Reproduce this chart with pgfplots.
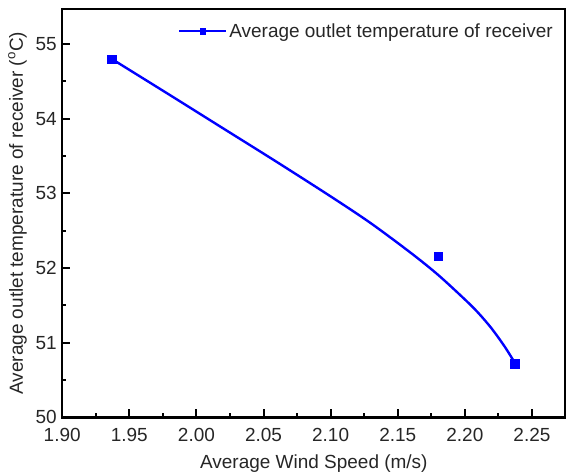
\documentclass[border=0pt]{standalone}
\usepackage{pgfplots}
\pgfplotsset{compat=1.18}
\usepackage{fontspec}
\setmainfont{Liberation Sans}
\newcommand\fs{\fontsize{19bp}{22bp}\selectfont}

% fitted curve
\pgfplotstableread{
x      y
1.937  54.80
1.980  54.32
2.020  53.87
2.060  53.42
2.100  52.96
2.130  52.60
2.160  52.20
2.180  51.91
2.200  51.58
2.210  51.40
2.220  51.19
2.230  50.94
2.2376 50.72
}\curve

% measured points
\pgfplotstableread{
x      y
1.937  54.80
2.180  52.16
2.237  50.72
}\measured

\begin{document}
\begin{tikzpicture}
\begin{axis}[
    name=ax,
    scale only axis,
    width=504bp, height=409bp,
    xmin=1.90, xmax=2.275,
    ymin=50, ymax=55.47,
    xtick={1.90,1.95,2.00,2.05,2.10,2.15,2.20,2.25},
    ytick={50,51,52,53,54,55},
    minor x tick num=1,
    minor y tick num=1,
    xtick pos=bottom, ytick pos=left,
    tick align=inside,
    major tick length=8bp,
    minor tick length=4bp,
    tick style={black, line width=2bp},
    axis line style={line width=2.2bp},
    /pgf/number format/assume math mode=true,
    xticklabel style={yshift=-7bp, /pgf/number format/fixed,
        /pgf/number format/fixed zerofill, /pgf/number format/precision=2},
    yticklabel style={xshift=-2bp},
    tick label style={font=\fs, text=black!85},
    label style={font=\fs, text=black!85},
    xlabel={Average Wind Speed (m/s)},
    xlabel style={yshift=-7bp},
    ylabel={Average outlet temperature of receiver (\textsuperscript{o}C)},
    ylabel style={yshift=2bp},
    legend style={draw=none, fill=none, at={(0.985,0.975)}, anchor=north east,
                  font=\fs, text=black!85},
    legend cell align=left,
]
\addplot[blue, line width=2.4bp, smooth, forget plot] table {\curve};
\addplot[only marks, mark=square*, mark size=4.2bp, blue,
    legend image code/.code={
        \draw[blue, line width=2.4bp] (0bp,0bp) -- (47bp,0bp);
        \fill[blue] (20.5bp,-3.2bp) rectangle (26.5bp,3.2bp);
    }] table {\measured};
\addlegendentry{Average outlet temperature of receiver}
\end{axis}
\pgfresetboundingbox
\path ([xshift=-62.3bp,yshift=-57bp]ax.south west) rectangle ([xshift=0.5bp,yshift=9bp]ax.north east);
\end{tikzpicture}
\end{document}
